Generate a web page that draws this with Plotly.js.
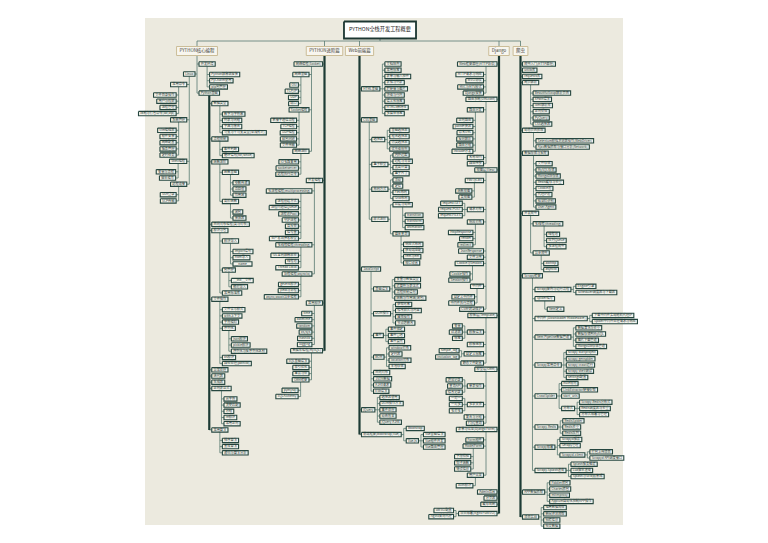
<!DOCTYPE html>
<html><head><meta charset="utf-8">
<script src="https://cdn.plot.ly/plotly-3.0.1.min.js"></script>
<style>html,body{margin:0;padding:0;background:#fff;}#chart{width:768px;height:543px;}</style>
</head><body><div id="chart"></div>
<script>
// ---------------- DATA (labels + hierarchy, indentation = depth) ----------------
const rootTitle = "PYTHON全栈开发工程概要";
const branchTitles = ["PYTHON核心编程", "PYTHON进阶篇", "Web前端篇", "Django", "爬虫"];

const coreOutline = [
"开发环境","  Python解释器安装","  PyCharm使用","  pip包管理",
"Linux",
"  常用命令","    文件目录操作","    用户与权限","    进程管理","    压缩与打包命令(tar/zip)",
"  系统管理","    vim编辑器","    软件安装","    网络配置","    服务管理","    定时任务",
"  Shell编程","    变量与流程","    脚本编写",
"  远程连接","    SSH登录","    SCP传输",
"Python基础",
"  数据类型","    数字与字符串","    列表与元组","    字典与集合","    可变与不可变类型(深浅拷贝)",
"  流程控制","    条件判断","    循环语句(for/while)",
"  函数进阶","    函数基础","      参数传递","      返回值","      作用域","    高阶函数","      闭包","      装饰器",
"  面向对象编程(类与对象)",
"  模块与包","    模块导入","      import语句","      from导入","      __name__","    包管理","      __init__文件","      相对导入","    常用标准库",
"  文件操作","    文件读写模式","    with上下文","    字符编码","    序列化","      json模块","      pickle模块","      序列化与反序列化区别","    os模块","    路径处理(pathlib)",
"  异常处理","  迭代器","  生成器",
"  正则表达式","    元字符","    贪婪匹配","    分组","    re模块","    常用正则",
"  常用算法","    排序算法","    查找算法","    递归与算法分析"
];

const advancedOutline = [
"网络编程(Socket)",
"  网络基础","    OSI","    TCP/IP","    UDP","    端口",
"  Socket编程","    套接字通信流程","    TCP编程","    UDP编程","    粘包问题","    文件传输",
"  网络进阶","    IO多路复用","    socketserver","    远程执行命令",
"并发编程",
"  多进程编程(multiprocessing)","    进程创建方式","    进程间通信Queue","    进程池Pool","    守护进程","    互斥锁","    信号量","    生产者消费者模型",
"  多线程编程(threading)","    GIL全局解释器锁","    线程池","    Thread Local",
"  协程编程(asyncio)","    gevent模块","    yield与协程","    async/await异步编程",
"常用模块","  time","  datetime","  random","  os/sys","  hashlib","  logging",
"数据库编程(MySQL)","  SQL基础语法","  索引优化","  事务与锁","  ORM框架","    pymysql","    SQLAlchemy"
];

const webOutline = [
"HTML基础","  文档结构","  常用标签","  表单与输入控件","  表格与列表","  超链接与图片","  块级与行内","  语义化标签","  HTML5新特性","  多媒体标签",
"CSS基础",
"  选择器","    基础选择器","    组合选择器","    伪类选择器","    优先级规则",
"  盒子模型","    内外边距","    边框与背景","    宽高计算","    盒子尺寸",
"  布局方式","    浮动","    定位","    Flex布局","    Grid布局",
"  样式进阶","    过渡与动画","      transition","      transform","      animation","    媒体查询","      响应式布局","      移动端适配","      rem与em","      视口设置",
"JavaScript",
"  基础语法","    变量与数据类型","    运算符与表达式","    流程控制语句","    函数与作用域(闭包)",
"  DOM操作","    获取元素","    修改样式与内容","    属性操作","    节点增删改",
"  事件","    事件绑定","    事件冒泡","    事件委托",
"  BOM","    window对象","    定时器","    location对象","    本地存储",
"  面向对象","  JSON数据","  AJAX请求","  ES6语法",
"jQuery","  选择器使用","  DOM操作方法","  事件处理","  动画效果","  jQuery AJAX",
"前端框架(Bootstrap/Vue)","  Bootstrap","  Vue.js","    Vue基础语法","    Vue组件开发","    Vue路由管理"
];

const djangoOutline = [
"Web框架原理(HTTP协议)","  HTTP请求与响应","  WSGI协议","  MVC与MTV模式","  Django安装",
"路由系统(URLconf)","  路由分发","    正则路由","    path转换器","    命名URL","    反向解析","    路由分组","    include分发","  名称空间","  路由传参",
"视图层(View)","  FBV与CBV","    函数视图","    类视图","  请求对象","    request.GET","    request.POST","    request.FILES",
"  响应对象","    HttpResponse","    render","    redirect","  JsonResponse","  文件上传",
"  Cookie与Session","    Cookie操作","    Session操作","  中间件","    自定义中间件","    中间件执行流程","  CSRF跨站保护",
"模板层(Template)","  模板语法","    变量","    过滤器","    标签","  模板继承","  自定义标签","    simple_tag","    inclusion_tag","  静态文件配置",
"模型层(ORM)","  单表操作","    增加记录","    查询API","    修改记录","  多表关系","    一对一","    一对多","    多对多","  聚合与分组","  F与Q查询",
"表单与认证(Django Form)","  Form组件","  ModelForm","    字段校验","    钩子函数","    错误信息","  用户认证","    auth模块",
"Admin后台","分页器","缓存机制",
"项目部署(Nginx+uWSGI)","  uWSGI配置","  Nginx反向代理"
];

const spiderOutline = [
"爬虫入门(HTTP原理)","urllib库","requests库",
"网页解析","  BeautifulSoup解析页面","  XPath语法","  lxml解析库","  正则提取","  PyQuery","  CSS选择器",
"动态页面抓取","  Selenium模拟浏览器操作(WebDriver)","  Ajax数据抓取与接口分析(Network)",
"数据存储与反爬","  文件存储","  MySQL存储","  MongoDB存储","  Redis缓存与去重","  Cookie池","  代理IP池","  验证码识别","  User-Agent",
"并发爬虫","  多线程(threading)","    线程池","    队列Queue","    多进程爬虫","  异步爬虫","    aiohttp","    asyncio",
"Scrapy框架",
"  Scrapy架构与运行流程","    Engine引擎","    Scheduler调度器与下载器",
"  Spider编写","    Item定义",
"  中间件 (Downloader Middleware)","    下载中间件实现随机代理IP","    Spider中间件处理请求与响应",
"  Item Pipeline数据管道","    数据清洗与去重","    数据存储到MySQL","    图片下载管道","    MongoDB存储管道",
"  Scrapy常用命令","    scrapy startproject","    scrapy genspider","    scrapy crawl运行","    scrapy shell调试","    settings配置",
"  CrawlSpider","    Rule规则","    LinkExtractor链接提取","    start_urls","    分布式","      Scrapy-Redis分布式","      Redis调度器与去重","      分布式部署与管理",
"  Scrapy-Redis","    RedisSpider","    Redis去重","    Redis队列",
"  Scrapy部署","    Scrapyd服务","    Gerapy管理","    Scrapyd-client","      打包上传项目","      Scrapyd API调度接口",
"  Scrapy-Splash渲染","    Splash服务搭建","    Lua脚本渲染","    Splash与Scrapy集成",
"APP数据抓取","  Fiddler抓包","  Charles抓包","  mitmproxy","  Appium自动化控制APP操作",
"项目实战","  电商数据爬取","  新闻资讯爬取","  招聘信息","  社交数据"
];

// ---------------- LAYOUT CONFIG ----------------
const FONT = '"Noto Sans CJK SC", "Noto Sans", sans-serif';
const FS = 3.2, H = 4.4, PAD = 1.7, ROW = 6.2, SIBGAP = ROW - H, FIRST = 10.5, GAPI = 2.5, SIDEG = 5;
const TOP_Y = 51, TOP_H = 9, TOP_FS = 4.4;
const ROOT = {cx: 380, y: 30, h: 17, fs: 5.2};
const BAR_Y = 41;
const COLORS = {bg: '#eceadf', fill: '#f4f4ee', border: '#264740', text: '#1f3530',
  thin: '#587a71', thick: '#1d3b35', topFill: '#f8f6ef', topBorder: '#cbbd98'};

const branches = [
  {title: branchTitles[0], outline: coreOutline, cx: 197, dir: 1, flip: ['Linux'], flipExtra: 10, thick: ['Python基础'], trunkThick: false, sideAuto: false, side: [], indent: []},
  {title: branchTitles[1], outline: advancedOutline, cx: 324.5, dir: -1, flip: [], flipExtra: 0, thick: [], trunkThick: true, sideAuto: false, side: [], indent: []},
  {title: branchTitles[2], outline: webOutline, cx: 359.5, dir: 1, flip: [], flipExtra: 0, thick: [], trunkThick: true, sideAuto: true, side: ['样式进阶', '前端框架(Bootstrap/Vue)'], indent: ['过渡与动画', '媒体查询']},
  {title: branchTitles[3], outline: djangoOutline, cx: 499, dir: -1, flip: [], flipExtra: 0, thick: [], trunkThick: true, sideAuto: false, side: ['请求对象', '自定义标签', '模板语法', '单表操作', '多表关系', '项目部署(Nginx+uWSGI)'], indent: []},
  {title: branchTitles[4], outline: spiderOutline, cx: 520.5, dir: 1, flip: [], flipExtra: 0, thick: [], trunkThick: true, sideAuto: false,
   side: ['Scrapy架构与运行流程', '中间件 (Downloader Middleware)', 'Item Pipeline数据管道', 'Scrapy常用命令', 'CrawlSpider', '分布式', 'Scrapy-Redis', 'Scrapy部署', 'Scrapyd-client', 'Scrapy-Splash渲染', 'APP数据抓取', '项目实战'], indent: []}
];

// ---------------- helpers ----------------
const ctx = document.createElement('canvas').getContext('2d');
function textW(s, size) { ctx.font = (size * 10) + 'px ' + FONT; return ctx.measureText(s).width / 10; }

function parse(lines) {
  const root = {children: []}; const stack = [root];
  for (const line of lines) {
    const m = line.match(/^( *)(.*)$/); const d = m[1].length / 2;
    const node = {label: m[2], children: []};
    while (stack.length > d + 1) stack.pop();
    stack[stack.length - 1].children.push(node); stack.push(node);
  }
  return root.children;
}
function shiftTree(n, dy) { n.y += dy; n.children.forEach(c => shiftTree(c, dy)); }
function isSide(n, b) {
  if (b.side.includes(n.label)) return true;
  if (b.indent.includes(n.label)) return false;
  return b.sideAuto && n.children.every(c => c.children.length === 0);
}
function place(n, edge, y, dir, b) {
  n.w = textW(n.label, FS) + 2 * PAD; n.h = H; n.dir = dir; n.y = y;
  if (dir > 0) { n.x0 = edge; n.x1 = edge + n.w; } else { n.x1 = edge; n.x0 = edge - n.w; }
  let top = y - H / 2, bottom = y + H / 2;
  if (!n.children.length) return {top, bottom};
  n.side = isSide(n, b);
  if (!n.side) {
    const off = Math.min(n.w / 2, 11);
    n.cx = dir > 0 ? n.x0 + off : n.x1 - off;
    const r = stack(n.children, n.cx + dir * GAPI, y + FIRST, dir, b);
    bottom = Math.max(bottom, r.bottom);
  } else {
    const ex = dir > 0 ? n.x1 : n.x0;
    n.cx = ex + dir * SIDEG / 2;
    const r = stack(n.children, ex + dir * SIDEG, y, dir, b);
    const first = n.children[0].y, last = n.children[n.children.length - 1].y;
    const dy = y - (first + last) / 2;
    n.children.forEach(c => shiftTree(c, dy));
    top = Math.min(top, r.top + dy); bottom = Math.max(bottom, r.bottom + dy);
  }
  return {top, bottom};
}
function stack(children, edge, startY, dir, b) {
  let cursor = startY, top = Infinity, bottom = -Infinity;
  for (const c of children) {
    const limit = cursor - H / 2;
    const e = place(c, edge, cursor, dir, b);
    const s = Math.max(0, limit - e.top);
    if (s) { shiftTree(c, s); e.top += s; e.bottom += s; }
    top = Math.min(top, e.top); bottom = Math.max(bottom, e.bottom);
    cursor = e.bottom + SIBGAP + H / 2;
  }
  return {top, bottom};
}

// ---------------- build geometry ----------------
const thin = {x: [], y: []}, thickL = {x: [], y: []};
const boxes = {x: [], y: []}, labels = {x: [], y: [], t: []};
const topBoxes = {x: [], y: []}, topLabels = {x: [], y: [], t: []};
function seg(t, x1, y1, x2, y2) { t.x.push(x1, x2, null); t.y.push(y1, y2, null); }
function rect(t, x0, x1, y0, y1) { t.x.push(x0, x1, x1, x0, x0, null); t.y.push(y0, y0, y1, y1, y0, null); }

function drawNode(n, b) {
  rect(boxes, n.x0, n.x1, n.y - n.h / 2, n.y + n.h / 2);
  labels.x.push((n.x0 + n.x1) / 2); labels.y.push(n.y); labels.t.push(n.label);
  if (!n.children.length) return;
  const tgt = b.thick.includes(n.label) ? thickL : thin;
  const ys = n.children.map(c => c.y);
  if (!n.side) {
    seg(tgt, n.cx, n.y + n.h / 2, n.cx, Math.max(...ys));
  } else {
    const ex = n.dir > 0 ? n.x1 : n.x0;
    seg(thin, ex, n.y, n.cx, n.y);
    seg(thin, n.cx, Math.min(n.y, ...ys), n.cx, Math.max(n.y, ...ys));
  }
  n.children.forEach(c => { seg(thin, n.cx, c.y, c.dir > 0 ? c.x0 : c.x1, c.y); drawNode(c, b); });
}

let barMin = Infinity, barMax = -Infinity;
for (const b of branches) {
  const kids = parse(b.outline);
  const w = textW(b.title, TOP_FS) + 6;
  const yBottom = TOP_Y + TOP_H / 2;
  const mainKids = [], flipKids = [];
  kids.forEach(k => (b.flip.includes(k.label) ? flipKids : mainKids).push(k));
  if (mainKids.length) stack(mainKids, b.cx + 2 * b.dir, yBottom + 8.5, b.dir, b);
  if (flipKids.length) stack(flipKids, b.cx - 2 * b.dir, yBottom + 8.5 + b.flipExtra, -b.dir, b);
  const lastY = Math.max(...kids.map(k => k.y));
  seg(b.trunkThick ? thickL : thin, b.cx, yBottom, b.cx, lastY);
  kids.forEach(k => { seg(thin, b.cx, k.y, k.dir > 0 ? k.x0 : k.x1, k.y); drawNode(k, b); });
  rect(topBoxes, b.cx - w / 2, b.cx + w / 2, TOP_Y - TOP_H / 2, TOP_Y + TOP_H / 2);
  topLabels.x.push(b.cx); topLabels.y.push(TOP_Y); topLabels.t.push(b.title);
  seg(thin, b.cx, BAR_Y, b.cx, TOP_Y - TOP_H / 2);
  barMin = Math.min(barMin, b.cx); barMax = Math.max(barMax, b.cx);
}
seg(thin, barMin, BAR_Y, barMax, BAR_Y);
seg(thin, ROOT.cx, ROOT.y + ROOT.h / 2, ROOT.cx, BAR_Y);
const rootW = textW(rootTitle, ROOT.fs) + 10;
const rootBox = {x: [], y: []};
rect(rootBox, ROOT.cx - rootW / 2, ROOT.cx + rootW / 2, ROOT.y - ROOT.h / 2, ROOT.y + ROOT.h / 2);

const traces = [
  {x: thin.x, y: thin.y, mode: 'lines', line: {color: COLORS.thin, width: 0.8}, hoverinfo: 'skip'},
  {x: thickL.x, y: thickL.y, mode: 'lines', line: {color: COLORS.thick, width: 2.2}, hoverinfo: 'skip'},
  {x: boxes.x, y: boxes.y, mode: 'lines', fill: 'toself', fillcolor: COLORS.fill, line: {color: COLORS.border, width: 1.1}, hoverinfo: 'skip'},
  {x: labels.x, y: labels.y, text: labels.t, mode: 'text', textposition: 'middle center', textfont: {family: FONT, size: FS, color: COLORS.text}, hoverinfo: 'skip'},
  {x: topBoxes.x, y: topBoxes.y, mode: 'lines', fill: 'toself', fillcolor: COLORS.topFill, line: {color: COLORS.topBorder, width: 1}, hoverinfo: 'skip'},
  {x: topLabels.x, y: topLabels.y, text: topLabels.t, mode: 'text', textposition: 'middle center', textfont: {family: FONT, size: TOP_FS, color: '#3a3a36'}, hoverinfo: 'skip'},
  {x: rootBox.x, y: rootBox.y, mode: 'lines', fill: 'toself', fillcolor: '#ffffff', line: {color: '#1c3631', width: 1.8}, hoverinfo: 'skip'},
  {x: [ROOT.cx], y: [ROOT.y], text: [rootTitle], mode: 'text', textposition: 'middle center', textfont: {family: FONT, size: ROOT.fs, color: '#222'}, hoverinfo: 'skip'}
];

const layout = {
  width: 768, height: 543, margin: {l: 0, r: 0, t: 0, b: 0},
  paper_bgcolor: '#ffffff', plot_bgcolor: 'rgba(0,0,0,0)', showlegend: false,
  xaxis: {range: [0, 768], visible: false, fixedrange: true},
  yaxis: {range: [543, 0], visible: false, fixedrange: true},
  shapes: [{type: 'rect', xref: 'x', yref: 'y', x0: 145, x1: 623, y0: 18, y1: 525, fillcolor: COLORS.bg, line: {width: 0}, layer: 'below'}]
};
Plotly.newPlot('chart', traces, layout, {staticPlot: true, displayModeBar: false});
</script>
</body></html>
